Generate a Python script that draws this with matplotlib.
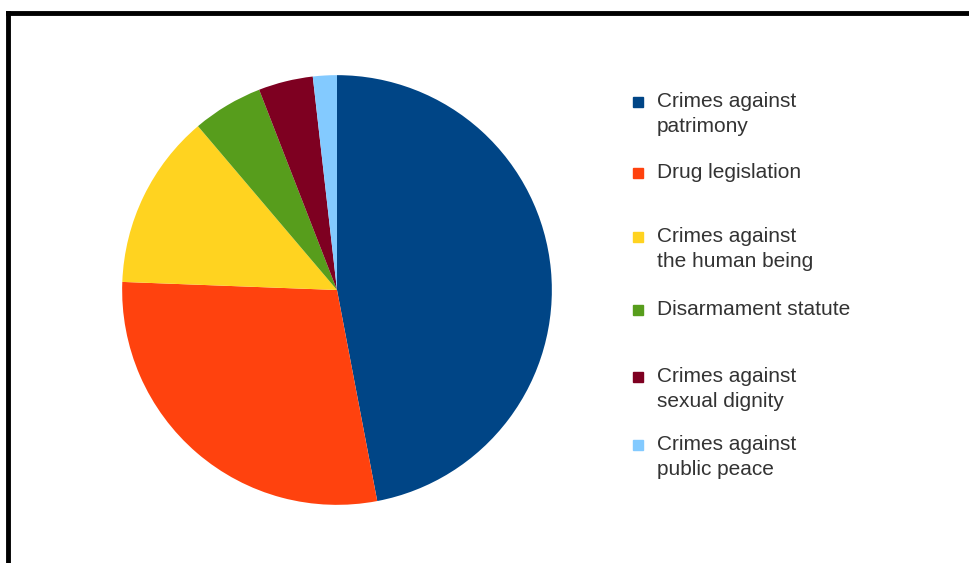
import matplotlib
matplotlib.use('Agg')
import matplotlib.pyplot as plt
from matplotlib.lines import Line2D
from matplotlib.patches import Rectangle

# shares (percent)
labels = ['Crimes against\npatrimony', 'Drug legislation', 'Crimes against\nthe human being',
          'Disarmament statute', 'Crimes against\nsexual dignity', 'Crimes against\npublic peace']
shares = [47.0, 28.6, 13.2, 5.3, 4.1, 1.8]
colors = ['#004586', '#ff420e', '#ffd320', '#579d1c', '#7e0021', '#83caff']

W, H = 969, 563
fig = plt.figure(figsize=(W / 100, H / 100), dpi=100)

# pie centred at (337, 290) px, radius 217 px
cx, cy, r = 337, 290, 217
ax = fig.add_axes([(cx - r) / W, (H - cy - r) / H, 2 * r / W, 2 * r / H])
ax.pie(shares, colors=colors, startangle=90, counterclock=False, radius=1,
       wedgeprops=dict(linewidth=0))
ax.set_xlim(-1.01, 1.01)
ax.set_ylim(-1.01, 1.01)
ax.set_aspect('equal')
ax.axis('off')

# frame lines (top and left only visible)
fig.add_artist(Line2D([8 / W, 1], [1 - 13 / H, 1 - 13 / H], color='black', lw=3.5,
                      transform=fig.transFigure))
fig.add_artist(Line2D([8 / W, 8 / W], [0, 1 - 13 / H], color='black', lw=3.5,
                      transform=fig.transFigure))

# legend, placed by hand
legend_y = [102, 173, 237, 310, 377, 445]
for lab, col, y in zip(labels, colors, legend_y):
    fig.add_artist(Rectangle((633 / W, 1 - (y + 5) / H), 10 / W, 10 / H,
                             color=col, transform=fig.transFigure))
    fig.text(657 / W, 1 - (y - 10) / H, lab, ha='left', va='top', fontsize=15,
             color='#333333', family='Liberation Sans', linespacing=1.38)

fig.savefig('out.png', dpi=100, facecolor='white')
